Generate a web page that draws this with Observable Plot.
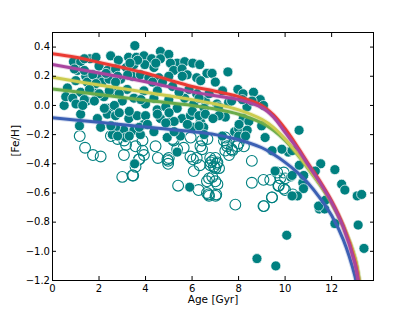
<!DOCTYPE html>
<html><head><meta charset="utf-8">
<script src="https://cdn.jsdelivr.net/npm/d3@7"></script>
<script src="https://cdn.jsdelivr.net/npm/@observablehq/plot@0.6"></script>
<style>body{margin:0;background:#fff;}</style>
</head><body><div id="chart"></div>
<script>
const xTicks = [0, 2, 4, 6, 8, 10, 12];
const yTicks = [-1.2, -1.0, -0.8, -0.6, -0.4, -0.2, 0.0, 0.2, 0.4];

// filled symbols: [age Gyr, [Fe/H]]
const filledStars = [
[3.54,0.41],[2.50,0.34],[2.83,0.31],[3.27,0.33],[3.60,0.33],[3.93,0.34],[4.26,0.32],[4.64,0.37],[5.0,0.35],[4.64,0.32],
[5.36,0.29],[5.68,0.30],[6.03,0.29],[6.33,0.28],[0.9,0.30],[1.21,0.30],[1.61,0.32],[2.0,0.27],[2.36,0.24],[2.71,0.25],
[3.17,0.26],[3.5,0.28],[3.97,0.28],[4.36,0.26],[5.07,0.29],[5.21,0.24],[5.57,0.25],[1.07,0.24],[1.43,0.20],[1.93,0.20],
[1.0,0.17],[1.49,0.16],[2.14,0.16],[2.43,0.18],[2.93,0.18],[3.43,0.20],[3.78,0.21],[4.14,0.19],[4.57,0.19],[5.0,0.20],
[5.79,0.21],[6.2,0.19],[6.64,0.22],[0.64,0.12],[0.5,0.0],[0.57,0.06],[1.21,0.09],[1.47,0.03],[1.78,0.10],[2.21,0.06],
[2.43,-0.02],[2.71,0.10],[3.0,0.03],[3.21,0.11],[3.5,0.05],[3.93,0.10],[4.0,0.01],[4.36,0.05],[4.5,-0.03],[5.0,0.04],
[5.36,-0.02],[5.68,0.05],[6.07,0.01],[6.2,0.08],[6.57,0.03],[1.21,-0.06],[1.93,-0.09],[2.36,-0.06],[2.71,-0.07],[3.28,-0.09],
[3.64,-0.07],[3.93,-0.13],[3.07,-0.17],[2.71,-0.15],[3.5,-0.17],[2.57,-0.20],[3.14,-0.22],[3.78,-0.20],[4.36,-0.18],[4.64,-0.09],
[5.07,-0.11],[5.57,-0.09],[5.93,-0.07],[6.36,-0.11],[6.0,-0.15],[6.5,-0.15],[4.93,-0.22],[5.5,-0.21],
[3.66,0.31],[4.44,0.29],[5.58,0.20],[6.37,0.17],[4.3,0.16],[4.73,0.16],[5.16,0.13],[4.51,0.10],[5.44,0.09],[5.87,0.11],
[6.3,0.05],[6.73,0.08],[3.8,0.04],[4.87,-0.01],[6.01,-0.04],[6.52,-0.02],[4.0,-0.07],[4.51,-0.06],[5.01,-0.05],[6.3,-0.07],
[5.23,-0.11],[5.8,-0.13],[6.3,-0.14],[3.73,-0.15],[4.08,-0.13],[4.87,-0.12],[6.52,-0.20],[5.23,-0.18],
[1.37,0.32],[1.87,0.33],[3.33,0.29],[0.94,0.25],[1.37,0.24],[1.73,0.21],[2.3,0.22],[2.8,0.20],[3.23,0.21],[1.87,0.15],
[2.71,0.16],[1.59,0.11],[2.01,0.08],[2.44,0.10],[2.87,0.08],[0.87,0.05],[1.37,0.04],[1.8,0.03],[1.01,0.01],[1.3,0.0],
[2.23,-0.02],[2.66,0.0],[2.87,-0.05],[3.3,-0.04],[1.16,-0.14],[2.51,-0.14],[2.07,-0.15],[2.8,-0.21],[3.3,-0.21],
[6.86,0.22],[7.54,0.23],[7.0,0.16],[7.31,0.10],[7.97,0.11],[8.19,0.08],[8.64,0.09],[8.93,0.04],[9.07,0.0],[8.36,-0.01],
[8.2,-0.09],[8.99,-0.14],[10.6,-0.17],[7.83,-0.18],[8.0,-0.16],[8.0,-0.21],[7.07,0.01],[7.43,-0.08],[6.57,-0.06],[7.14,-0.01],
[7.57,0.02],[7.7,0.03],[9.14,-0.22],[10.14,-0.32],[9.86,-0.30],[8.58,0.03],[8.16,0.04],[7.16,-0.07],[6.9,-0.09],[8.44,-0.11],
[8.02,-0.13],[8.37,-0.17],[8.3,-0.21],[7.3,-0.21],
[3.53,-0.40],[5.36,-0.32],[5.9,-0.56],[9.57,-0.45],[10.24,-0.49],[10.61,-0.41],[10.76,-0.53],[10.79,-0.57],[10.53,-0.62],[11.53,-0.40],
[12.14,-0.44],[12.43,-0.54],[12.57,-0.58],[11.47,-0.71],[11.7,-0.71],[12.14,-0.81],[13.14,-0.82],[13.1,-0.62],[13.29,-0.61],[13.39,-0.98],
[10.07,-0.89],[8.79,-1.05],[9.6,-1.10],[10.3,-0.48],[10.8,-0.48],[10.3,-0.62],[11.44,-0.69],[11.73,-0.65],[11.3,-0.45],[9.44,-0.31],[10.3,-0.31]
];

// open symbols: [age Gyr, [Fe/H]]
const openStars = [
[1.17,-0.21],[1.74,-0.34],[2.07,-0.35],[3.07,-0.34],[3.57,-0.28],[3.93,-0.34],[4.43,-0.28],[5.0,-0.36],[5.21,-0.24],[5.36,-0.30],
[5.64,-0.29],[5.93,-0.35],[6.36,-0.28],[6.78,-0.36],[3.57,-0.42],[3.47,-0.48],[3.0,-0.49],[3.71,-0.37],[4.53,-0.36],[4.97,-0.38],
[4.97,-0.40],[5.4,-0.55],[6.04,-0.37],[6.2,-0.36],[6.07,-0.45],[6.33,-0.41],[6.28,-0.58],[6.64,-0.52],[6.64,-0.60],[6.79,-0.41],
[7.07,-0.40],[7.0,-0.43],[7.0,-0.52],[6.71,-0.61],[7.04,-0.61],[8.57,-0.38],[8.57,-0.53],[7.86,-0.68],[9.07,-0.51],[9.36,-0.51],
[9.71,-0.55],[10.0,-0.58],[10.33,-0.61],[9.43,-0.63],[9.07,-0.69],[9.79,-0.50],[10.0,-0.50],[7.43,-0.22],[7.5,-0.26],[7.43,-0.31],
[7.7,-0.30],[8.0,-0.26],[8.2,-0.22],[6.43,-0.30],[6.43,-0.24],[7.0,-0.36],[3.87,-0.31],[3.73,-0.37],[3.87,-0.24],[3.44,-0.48],
[4.94,-0.37],[5.16,-0.23],[5.94,-0.22],[6.66,-0.23],[6.8,-0.39],[6.73,-0.50],[6.73,-0.62],[1.4,-0.29],[2.51,-0.21],[2.8,-0.23],
[3.08,-0.24],[3.16,-0.27],[7.37,-0.24],[7.51,-0.28],[7.73,-0.31],[7.94,-0.28],[8.23,-0.28],[7.59,-0.34],[6.87,-0.38],[7.09,-0.39],
[6.94,-0.42],[7.16,-0.43],[6.87,-0.49],[7.09,-0.54],[7.01,-0.62],[9.66,-0.46],[9.94,-0.46],[9.73,-0.55],[9.94,-0.57],[9.44,-0.63],[9.09,-0.69]
];

// model tracks: [age Gyr, [Fe/H]]
const blueTrack = [[0,-0.085],[2,-0.115],[4,-0.148],[6,-0.18],[7,-0.2],[8,-0.235],[9,-0.29],[9.5,-0.335],[10,-0.39],[10.5,-0.455],[11,-0.535],[11.5,-0.635],[12,-0.755],[12.5,-0.92],[13,-1.17],[13.05,-1.21]];
const greenTrack = [[0,0.113],[2,0.075],[4,0.035],[6,0.0],[7,-0.025],[8,-0.06],[9,-0.12],[9.5,-0.17],[10,-0.24],[10.5,-0.33],[11,-0.435],[11.5,-0.545],[12,-0.67],[12.5,-0.83],[13,-1.045],[13.2,-1.21]];
const yellowTrack = [[0,0.193],[2,0.14],[4,0.09],[6,0.04],[7,0.01],[8,-0.03],[9,-0.095],[9.5,-0.15],[10,-0.23],[10.5,-0.325],[11,-0.43],[11.5,-0.54],[12,-0.665],[12.5,-0.825],[13,-1.04],[13.2,-1.21]];
const redTrack = [[0,0.354],[1,0.33],[2,0.295],[3,0.26],[4,0.222],[5,0.175],[6,0.13],[7,0.097],[8,0.06],[9,0.0],[9.5,-0.065],[10,-0.16],[10.5,-0.275],[11,-0.4],[11.5,-0.52],[12,-0.655],[12.5,-0.825],[13,-1.07],[13.16,-1.21]];
const magentaTrack = [[0,0.28],[2,0.222],[4,0.163],[6,0.093],[7,0.066],[8,0.04],[9,-0.015],[9.5,-0.08],[10,-0.185],[10.5,-0.29],[11,-0.41],[11.5,-0.53],[12,-0.665],[12.5,-0.835],[13,-1.085],[13.15,-1.21]];

const tracks = [
  {data: blueTrack, color: "#3c60b4"},
  {data: greenTrack, color: "#6aab4a"},
  {data: yellowTrack, color: "#cccc50"},
  {data: redTrack, color: "#ea3a33"},
  {data: magentaTrack, color: "#a8459e"}
];

const teal = "#008080";
const trackMarks = tracks.flatMap(t => [
  Plot.line(t.data, {x: d => d[0], y: d => d[1], stroke: t.color, strokeOpacity: 0.22, strokeWidth: 5, curve: "catmull-rom", clip: true}),
  Plot.line(t.data, {x: d => d[0], y: d => d[1], stroke: t.color, strokeWidth: 3, curve: "catmull-rom", clip: true})
]);

const chart = Plot.plot({
  width: 415, height: 312,
  marginLeft: 52, marginRight: 42, marginTop: 32, marginBottom: 32,
  x: {domain: [0, 13.8]},
  y: {domain: [-1.2, 0.5]},
  style: {fontFamily: "DejaVu Sans", fontSize: "10px", color: "black", background: "white"},
  marks: [
    Plot.dot(openStars, {x: d => d[0], y: d => d[1], r: 5.4, fill: "none", stroke: teal, strokeWidth: 1.1}),
    Plot.dot(filledStars, {x: d => d[0], y: d => d[1], r: 5, fill: teal, stroke: "white", strokeWidth: 0.7}),
    ...trackMarks,
    Plot.frame({stroke: "black", strokeWidth: 1}),
    Plot.axisX(xTicks, {anchor: "bottom", tickSize: -4, tickPadding: 8, label: null, tickFormat: d => String(d)}),
    Plot.axisX(xTicks, {anchor: "top", tickSize: -4, label: null, tickFormat: () => ""}),
    Plot.axisY(yTicks, {anchor: "left", tickSize: -4, tickPadding: 6.5, label: null, tickFormat: d => d3.format(".1f")(d).replace("-", "−")}),
    Plot.axisY(yTicks, {anchor: "right", tickSize: -4, label: null, tickFormat: () => ""}),
    Plot.text(["Age [Gyr]"], {frameAnchor: "bottom", dy: 22, text: d => d, fontSize: 10.5}),
    Plot.text(["[Fe/H]"], {frameAnchor: "left", dx: -37, rotate: -90, text: d => d, fontSize: 10.5})
  ]
});
document.getElementById("chart").appendChild(chart);
</script>
</body></html>
